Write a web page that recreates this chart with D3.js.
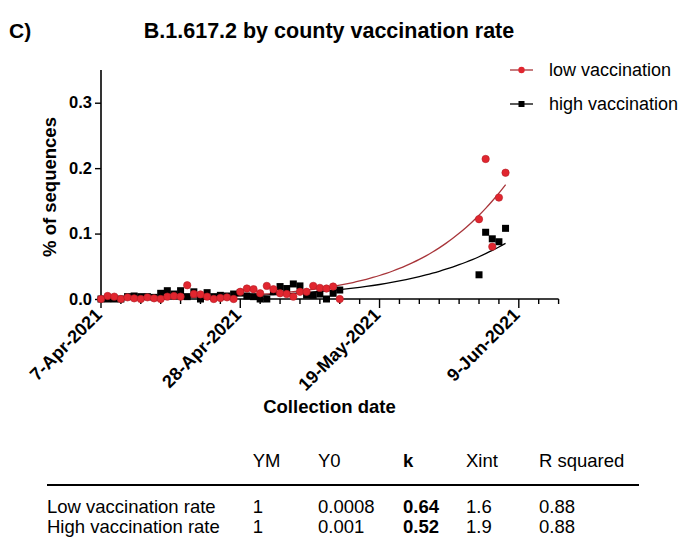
<!DOCTYPE html>
<html><head><meta charset="utf-8">
<script src="https://cdn.jsdelivr.net/npm/d3@7"></script>
<style>
body{margin:0;background:#fff;}
text{font-family:"Liberation Sans",Arial,Helvetica,sans-serif;fill:#000;}
</style></head>
<body>
<svg id="chart" width="690" height="542"></svg>
<script>
// ---- data ----
const dates = ["2021-04-07","2021-04-08","2021-04-09","2021-04-10","2021-04-11","2021-04-12","2021-04-13","2021-04-14","2021-04-15","2021-04-16",
  "2021-04-17","2021-04-18","2021-04-19","2021-04-20","2021-04-21","2021-04-22","2021-04-23","2021-04-24","2021-04-25","2021-04-26",
  "2021-04-27","2021-04-28","2021-04-29","2021-04-30","2021-05-01","2021-05-02","2021-05-03","2021-05-04","2021-05-05","2021-05-06",
  "2021-05-07","2021-05-08","2021-05-09","2021-05-10","2021-05-11","2021-05-12","2021-05-13",
  "2021-06-03","2021-06-04","2021-06-05","2021-06-06","2021-06-07"];
const lowVaccination = [0,0.0046,0.0036,0,0.0025,0.001,0,0.0025,0.001,0,
  0.0036,0.0046,0.0036,0.021,0.0076,0.007,0.0036,0,0.0015,0.0025,
  0,0.011,0.016,0.015,0.0087,0.020,0.015,0.0087,0.0076,0.0036,
  0.011,0.011,0.020,0.017,0.016,0.019,0,
  0.122,0.214,0.080,0.155,0.193];
const highVaccination = [0,0,0,0,0.0036,0.0046,0.0036,0.0036,0.0025,0.0087,
  0.0127,0.0076,0.0127,0.0036,0.011,0,0.0097,0.0036,0.0056,0.0046,
  0.0076,0.0097,0.0046,0.0036,0,0,0.011,0.019,0.016,0.023,
  0.020,0.006,0.0056,0.0076,0,0.0087,0.0137,
  0.037,0.102,0.092,0.0875,0.108];
const yTicks = [0, 0.1, 0.2, 0.3];
const xMajorTickLabels = ["7-Apr-2021","28-Apr-2021","19-May-2021","9-Jun-2021"];
const tableHeader = ["YM","Y0","k","Xint","R squared"];
const tableRowNames = ["Low vaccination rate","High vaccination rate"];
const fitYM = [1, 1];
const fitY0 = [0.0008, 0.001];
const fitK = [0.64, 0.52];
const fitXint = [1.6, 1.9];
const fitR2 = [0.88, 0.88];
const fitY0Labels = ["0.0008","0.001"];
const fitKLabels = ["0.64","0.52"];
const fitXintLabels = ["1.6","1.9"];
const fitR2Labels = ["0.88","0.88"];
const fitEndDate = "2021-06-07";

// ---- setup ----
const svg = d3.select("#chart");
const parse = d3.utcParse("%Y-%m-%d");
const start = parse("2021-04-07");
const end = parse("2021-06-15");
const x = d3.scaleUtc().domain([start, end]).range([101, 558.6]);
const y = d3.scaleLinear().domain([0, 0.35]).range([299, 70]);
const redC = "#e1262f", redLine = "#a8353a";

// title
svg.append("text").attr("x", 9).attr("y", 38).attr("font-size", 21).attr("font-weight", "bold").text("C)");
svg.append("text").attr("x", 329).attr("y", 38).attr("text-anchor", "middle").attr("font-size", 21.5)
  .attr("font-weight", "bold").text("B.1.617.2 by county vaccination rate");

// y axis
const yAxis = svg.append("g").attr("transform", "translate(101,0)")
  .call(d3.axisLeft(y).tickValues(yTicks).tickFormat(d3.format(".1f")).tickSize(6).tickPadding(3));
yAxis.select(".domain").attr("d", `M0,${y(0.35)}V${y(0)}`).attr("stroke-width", 1.6);
yAxis.selectAll(".tick line").attr("stroke-width", 1.4);
yAxis.selectAll("text").attr("font-size", 16.5).attr("font-weight", "bold")
  .style("font-family", '"Liberation Sans",Arial,sans-serif').attr("fill", "#000");

svg.append("text").attr("transform", "translate(56,187) rotate(-90)").attr("text-anchor", "middle")
  .attr("font-size", 18.5).attr("font-weight", "bold").text("% of sequences");

// x axis
const allDays = d3.utcDay.range(start, d3.utcDay.offset(end, 1));
const tickDays = allDays.filter((d, i) => i % 3 === 0);
const majorDays = allDays.filter((d, i) => i % 21 === 0);
const xAxisG = svg.append("g").attr("transform", `translate(0,${y(0)})`);
xAxisG.append("line").attr("x1", x(start)).attr("x2", x(end)).attr("stroke", "#000").attr("stroke-width", 1.6);
xAxisG.selectAll("line.minor").data(tickDays).join("line").attr("class", "minor")
  .attr("x1", d => x(d)).attr("x2", d => x(d)).attr("y1", 0)
  .attr("y2", (d) => majorDays.some(m => +m === +d) ? 9 : 5)
  .attr("stroke", "#000").attr("stroke-width", 1.4);
xAxisG.selectAll("text.lab").data(majorDays).join("text").attr("class", "lab")
  .attr("transform", d => `translate(${x(d) + 2},${17}) rotate(-45)`)
  .attr("text-anchor", "end").attr("font-size", 18).attr("font-weight", "bold")
  .text((d, i) => xMajorTickLabels[i]);

svg.append("text").attr("x", 329.5).attr("y", 413).attr("text-anchor", "middle")
  .attr("font-size", 18.5).attr("font-weight", "bold").text("Collection date");

// fit curves (logistic growth, x in weeks from 7-Apr)
const fitDays = d3.utcDay.range(start, d3.utcDay.offset(parse(fitEndDate), 1));
function logistic(i, d) {
  const t = (d - start) / (7 * 864e5);
  return fitYM[i] * fitY0[i] / ((fitYM[i] - fitY0[i]) * Math.exp(-fitK[i] * t) + fitY0[i]);
}
const line = d3.line().x(d => x(d[0])).y(d => y(d[1])).curve(d3.curveMonotoneX);
[1, 0].forEach(i => {
  const pts = fitDays.map(d => [d, logistic(i, d)]);
  svg.append("path").attr("d", line(pts)).attr("fill", "none")
    .attr("stroke", i === 0 ? redLine : "#000").attr("stroke-width", 1.3);
});

// points
const dd = dates.map(parse);
svg.append("g").selectAll("rect").data(highVaccination).join("rect")
  .attr("x", (v, i) => x(dd[i]) - 3.5).attr("y", v => y(v) - 3.5)
  .attr("width", 7).attr("height", 7).attr("fill", "#000");
svg.append("g").selectAll("circle").data(lowVaccination).join("circle")
  .attr("cx", (v, i) => x(dd[i])).attr("cy", v => y(v)).attr("r", 3.7)
  .attr("fill", redC).attr("stroke", "#b51c25").attr("stroke-width", 0.6);

// legend
const leg = svg.append("g");
leg.append("line").attr("x1", 510).attr("x2", 533).attr("y1", 70).attr("y2", 70).attr("stroke", redLine).attr("stroke-width", 1.3);
leg.append("circle").attr("cx", 521.5).attr("cy", 70).attr("r", 3.2).attr("fill", redC);
leg.append("text").attr("x", 549).attr("y", 76).attr("font-size", 18).text("low vaccination");
leg.append("line").attr("x1", 510).attr("x2", 533).attr("y1", 104).attr("y2", 104).attr("stroke", "#000").attr("stroke-width", 1.3);
leg.append("rect").attr("x", 518.5).attr("y", 101).attr("width", 6).attr("height", 6).attr("fill", "#000");
leg.append("text").attr("x", 549).attr("y", 110).attr("font-size", 18).text("high vaccination");

// table
const colX = [252.7, 318, 403, 466, 539];
const tbl = svg.append("g").attr("font-size", 18.5);
tbl.selectAll("text.h").data(tableHeader).join("text").attr("class", "h")
  .attr("x", (d, i) => colX[i]).attr("y", 466.7).attr("font-size", 18.5)
  .attr("font-weight", (d, i) => i === 2 ? "bold" : "normal").text(d => d);
tbl.append("line").attr("x1", 47).attr("x2", 639).attr("y1", 485).attr("y2", 485).attr("stroke", "#000").attr("stroke-width", 1.8);
const rowY = [512.7, 532.7];
tableRowNames.forEach((name, r) => {
  const cells = [name, String(fitYM[r]), fitY0Labels[r], fitKLabels[r], fitXintLabels[r], fitR2Labels[r]];
  const cx = [47].concat(colX);
  cells.forEach((c, j) => {
    tbl.append("text").attr("x", cx[j]).attr("y", rowY[r]).attr("font-size", 18.5)
      .attr("font-weight", j === 3 ? "bold" : "normal").text(c);
  });
});
</script>
</body></html>
